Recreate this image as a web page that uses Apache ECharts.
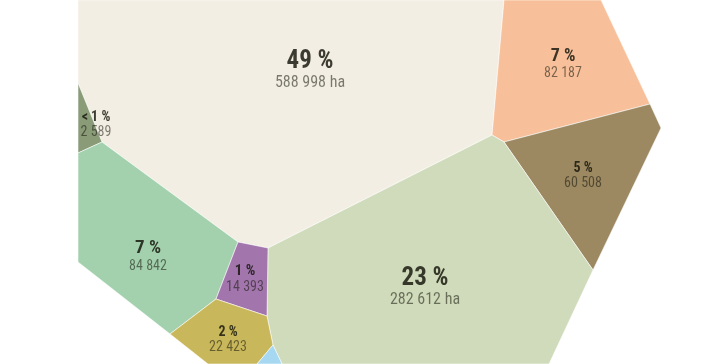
<!DOCTYPE html>
<html>
<head>
<meta charset="utf-8">
<script src="https://cdn.jsdelivr.net/npm/echarts@6/dist/echarts.min.js"></script>
<style>
html,body{margin:0;padding:0;background:#fff;}
#c{width:728px;height:364px;}
</style>
</head>
<body>
<div id="c"></div>
<script>
// ---- data ----
var categories = ['main', 'orange', 'brown', 'meadow', 'small', 'green', 'purple', 'yellow', 'blue'];
var values = [588998, 82187, 60508, 282612, 2589, 84842, 14393, 22423, null];
var pctLabels = ['49 %', '7 %', '5 %', '23 %', '< 1 %', '7 %', '1 %', '2 %', ''];
var valueLabels = ['588 998 ha', '82 187', '60 508', '282 612 ha', '2 589', '84 842', '14 393', '22 423', ''];

// ---- layout (Voronoi cell geometry, label anchors, styles) ----
var cellPolygons = [
  [[78,0],[504,0],[492,135],[268,248],[238,242],[102,142],[78,83]],
  [[504,0],[601,0],[650,104],[504,142],[492,135]],
  [[504,142],[650,104],[661,128],[593,270]],
  [[268,248],[492,135],[504,142],[593,270],[549,364],[282,364],[273,345],[267,316]],
  [[78,83],[102,142],[78,153]],
  [[78,153],[102,142],[238,242],[216,299],[170,334],[78,262]],
  [[238,242],[268,248],[267,316],[216,299]],
  [[216,299],[267,316],[273,345],[257,364],[208,364],[170,334]],
  [[257,364],[273,345],[282,364]]
];
var labelAnchors = [[310,74],[563,65],[583,175],[425,291],[96,124],[148,258],[245,279],[228,339],[0,0]];
var pctSizes = [25, 18, 14, 25, 14, 19, 15, 14, 0];
var valSizes = [16, 14, 14, 16, 14, 14, 14, 14, 0];
var colors = ['#f3eee4', '#f7c09a', '#9c8962', '#d0dbbb', '#8a9b78', '#a3d1ae', '#a276ad', '#c9b85b', '#a6d8f1'];

var FONT = "'Liberation Sans Narrow', 'Roboto Condensed', Roboto, sans-serif";

var seriesData = categories.map(function (c, i) {
  return { name: c, value: [i, values[i]] };
});

var chart = echarts.init(document.getElementById('c'), null, { renderer: 'canvas' });
chart.setOption({
  animation: false,
  grid: { left: 0, right: 0, top: 0, bottom: 0 },
  xAxis: { type: 'value', min: 0, max: 728, show: false },
  yAxis: { type: 'value', min: 0, max: 364, inverse: true, show: false },
  series: [{
    type: 'custom',
    coordinateSystem: 'cartesian2d',
    clip: false,
    data: seriesData,
    renderItem: function (params, api) {
      var i = params.dataIndex;
      var pts = cellPolygons[i].map(function (p) { return api.coord(p); });
      var a = api.coord(labelAnchors[i]);
      var children = [{
        type: 'polygon',
        shape: { points: pts },
        style: { fill: colors[i], stroke: 'rgba(255,255,255,0.55)', lineWidth: 1 }
      }];
      if (pctLabels[i]) {
        children.push({
          type: 'text',
          x: a[0], y: a[1],
          style: {
            text: pctLabels[i], fill: 'rgba(20,20,10,0.82)',
            font: 'bold ' + pctSizes[i] + 'px ' + FONT,
            align: 'center', verticalAlign: 'bottom'
          }
        });
        children.push({
          type: 'text',
          x: a[0], y: a[1] + 1,
          style: {
            text: valueLabels[i], fill: 'rgba(20,20,10,0.55)',
            font: valSizes[i] + 'px ' + FONT,
            align: 'center', verticalAlign: 'top'
          }
        });
      }
      return { type: 'group', children: children };
    }
  }]
});
</script>
</body>
</html>
